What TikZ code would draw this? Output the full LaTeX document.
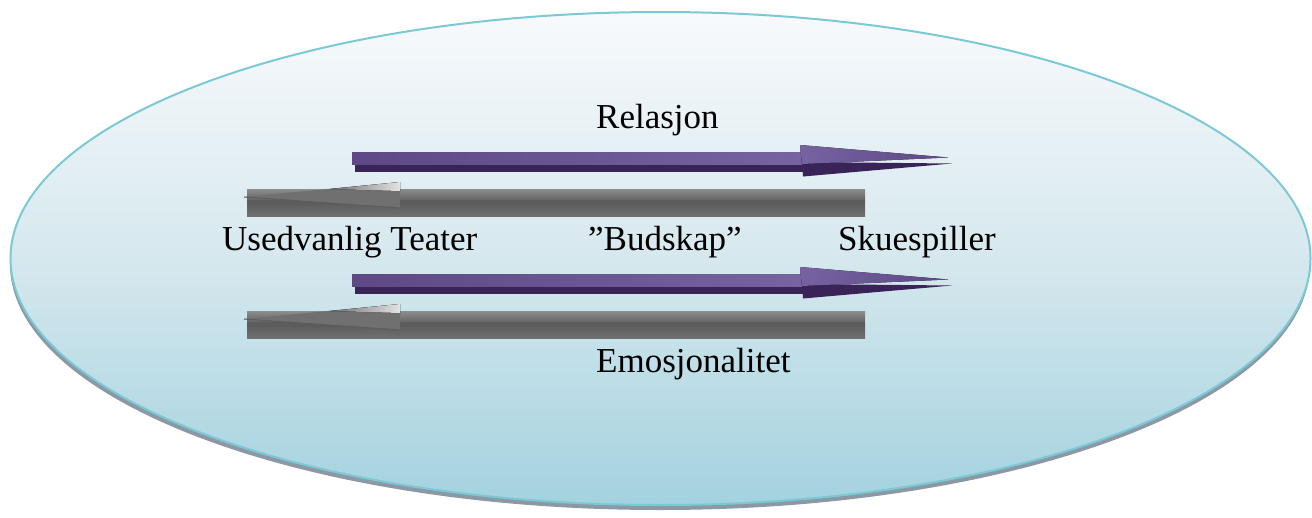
\documentclass[tikz,border=0pt]{standalone}
\usepackage{fontspec}
\setmainfont{Liberation Serif}
\usepackage{color}
\definecolor{ringedge}{HTML}{7CC9D6}
\definecolor{ringtop}{HTML}{F8FAFC}
\definecolor{ringmid}{HTML}{D6E8EE}
\definecolor{ringbot}{HTML}{A3D2DF}
\definecolor{ringshadow}{HTML}{8C98A3}
\definecolor{lilla}{HTML}{5E4986}
\definecolor{lillalys}{HTML}{7762A2}
\definecolor{lillamork}{HTML}{3A2356}
\definecolor{graa}{HTML}{707070}
\definecolor{graamork}{HTML}{5C5C5C}

\begin{document}
\begin{tikzpicture}
  [x=1pt,y=-1pt,every node/.style={inner sep=0pt,font=\fontsize{35}{42}\selectfont},
   ord/.style={anchor=base west,text=black},
   ring/.style={draw=ringedge,line width=2pt,top color=ringtop,bottom color=ringbot,middle color=ringmid},
   ringskygge/.style={fill=ringshadow}]
  \useasboundingbox (0,0) rectangle (1312,517);

  % the oval behind everything
  \fill[ringskygge] (660,264) ellipse [x radius=650,y radius=246];
  \path[ring] (660.5,258.5) ellipse [x radius=650,y radius=246.5];

  % arrow pairs, the second one 122 below the first
  \foreach \dy in {0,122} {
    \begin{scope}[shift={(0,\dy)}]
      % purple, pointing right
      \fill[lillamork] (355,163) rectangle (803,171.5);
      \fill[left color=lilla, right color=lillalys] (352,152) rectangle (802,164);
      \fill[lillamork] (802,162) -- (952,163.5) -- (803,176.5) -- cycle;
      \fill[left color=lillalys, right color=lilla] (800,145) -- (948,157.5) -- (802,164) -- cycle;
      % grey, pointing left
      \fill[top color=graa!80!white, bottom color=graa, middle color=graamork] (247,189) rectangle (865,216);
      \fill[graamork] (247,200) rectangle (865,205);
      \fill[graa] (400,182) -- (244,197) -- (400,208) -- cycle;
      \fill[left color=graa, right color=white!80!graa] (330,189) -- (400,182) -- (400,191) -- cycle;
      \draw[graamork,line width=1pt] (244,197) -- (400,208);
    \end{scope}
  }

  \node (rel) [ord] at (596,128) {Relasjon};
  \node (teater) [ord] at (222,250) {Usedvanlig Teater};
  \node (budskap) [ord] at (588,250) {”Budskap”};
  \node (skuespiller) [ord] at (838,250) {Skuespiller};
  \node (emo) [ord] at (596,372) {Emosjonalitet};
\end{tikzpicture}
\end{document}
